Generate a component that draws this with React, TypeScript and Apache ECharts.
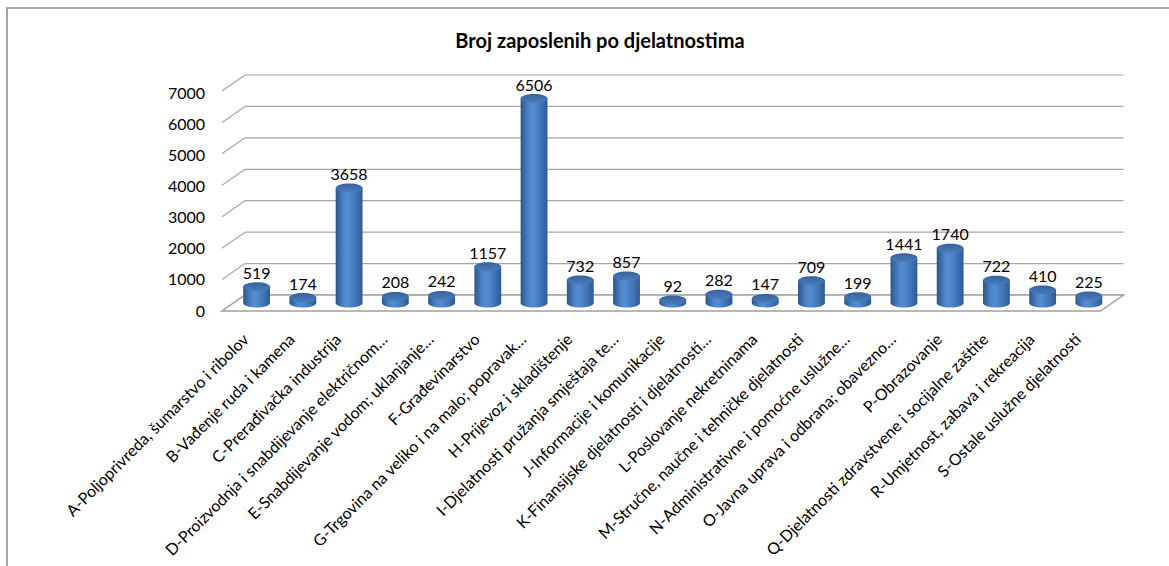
import React, { useEffect, useRef } from "react";
import * as echarts from "echarts";

const chartTitle = "Broj zaposlenih po djelatnostima";

const categories = [
  "A-Poljoprivreda, šumarstvo i ribolov",
  "B-Vađenje ruda i kamena",
  "C-Prerađivačka industrija",
  "D-Proizvodnja i snabdijevanje električnom…",
  "E-Snabdijevanje vodom; uklanjanje…",
  "F-Građevinarstvo",
  "G-Trgovina na veliko i na malo; popravak…",
  "H-Prijevoz i skladištenje",
  "I-Djelatnosti pružanja smještaja te…",
  "J-Informacije i komunikacije",
  "K-Finansijske djelatnosti i djelatnosti…",
  "L-Poslovanje nekretninama",
  "M-Stručne, naučne i tehničke djelatnosti",
  "N-Administrativne i pomoćne uslužne…",
  "O-Javna uprava i odbrana; obavezno…",
  "P-Obrazovanje",
  "Q-Djelatnosti zdravstvene i socijalne zaštite",
  "R-Umjetnost, zabava i rekreacija",
  "S-Ostale uslužne djelatnosti",
];

const values = [519, 174, 3658, 208, 242, 1157, 6506, 732, 857, 92, 282, 147, 709, 199, 1441, 1740, 722, 410, 225];

const yTicks = [0, 1000, 2000, 3000, 4000, 5000, 6000, 7000];

const FONT = "Lato, 'Open Sans', sans-serif";

export default function App() {
  const ref = useRef<HTMLDivElement>(null);

  useEffect(() => {
    const chart = echarts.init(ref.current!, null, { renderer: "svg" });
    const DX = 11.5;
    const DY = 8;
    const n = categories.length;

    const bodyGrad = () =>
      new echarts.graphic.LinearGradient(0, 0, 1, 0, [
        { offset: 0, color: "#2B5589" },
        { offset: 0.3, color: "#4E85C9" },
        { offset: 0.45, color: "#548DD2" },
        { offset: 0.75, color: "#4275B5" },
        { offset: 1, color: "#2D5A91" },
      ]);
    const topGrad = () =>
      new echarts.graphic.LinearGradient(0, 0, 0, 1, [
        { offset: 0, color: "#36639C" },
        { offset: 1, color: "#4A7CBC" },
      ]);

    const option: any = {
      animation: false,
      backgroundColor: "#ffffff",
      title: {
        text: chartTitle,
        left: 595,
        top: 25,
        textAlign: "center",
        textStyle: { fontFamily: FONT, fontSize: 20, fontWeight: "bold", color: "#000" },
      },
      graphic: [
        {
          type: "rect",
          shape: { x: 7, y: 8, width: 1200, height: 600 },
          style: { fill: "none", stroke: "#8a8a8a", lineWidth: 1.5 },
          silent: true,
        },
      ],
      grid: [
        { left: 233.5, top: 83, width: 878.5, height: 220 },
        { left: 222, top: 92, width: 878.5, height: 218 },
      ],
      xAxis: [
        {
          gridIndex: 0,
          type: "category",
          data: categories,
          axisLine: { show: false },
          axisTick: { show: false },
          axisLabel: { show: false },
          splitLine: { show: false },
        },
        {
          gridIndex: 1,
          type: "category",
          data: categories,
          axisLine: { show: false },
          axisTick: { show: false },
          axisLabel: {
            show: true,
            interval: 0,
            rotate: 45,
            margin: 26,
            fontFamily: FONT,
            fontSize: 16,
            color: "#000",
          },
          splitLine: { show: false },
        },
      ],
      yAxis: [
        {
          gridIndex: 0,
          type: "value",
          min: 0,
          max: 7000,
          interval: 1000,
          axisLine: { show: false },
          axisTick: { show: false },
          axisLabel: { show: false },
          splitLine: { show: false },
        },
        {
          gridIndex: 1,
          type: "value",
          min: 0,
          max: 7000,
          interval: 1000,
          axisLine: { show: false },
          axisTick: { show: false },
          axisLabel: {
            show: true,
            margin: 17,
            fontFamily: FONT,
            fontSize: 16,
            color: "#000",
            formatter: (v: number) => String(v),
          },
          splitLine: { show: false },
        },
      ],
      series: [
        {
          type: "custom",
          xAxisIndex: 0,
          yAxisIndex: 0,
          silent: true,
          z: 1,
          data: yTicks.map((v) => [0, v]),
          encode: { x: 0, y: 1 },
          renderItem: (params: any, api: any) => {
            const v = api.value(1);
            const p = api.coord([0, v]);
            const bw = api.size([1, 0])[0];
            const left = p[0] - bw / 2;
            const right = left + bw * n;
            const y = p[1];
            const gridStyle = { stroke: "#a6a6a6", lineWidth: 1.2 };
            const children: any[] = [
              { type: "line", shape: { x1: left + DX, y1: y - DY, x2: right + DX, y2: y - DY }, style: gridStyle },
              { type: "line", shape: { x1: left - DX, y1: y + DY, x2: left + DX, y2: y - DY }, style: gridStyle },
            ];
            if (v === 0) {
              children.push({
                type: "polygon",
                shape: {
                  points: [
                    [left - DX, y + DY],
                    [left + DX, y - DY],
                    [right + DX, y - DY],
                    [right - DX, y + DY],
                  ],
                },
                style: { fill: "#ffffff", stroke: "#a0a0a0", lineWidth: 1.5 },
              });
            }
            return { type: "group", children };
          },
        },
        {
          type: "custom",
          xAxisIndex: 0,
          yAxisIndex: 0,
          silent: true,
          z: 3,
          data: values.map((v, i) => [i, v]),
          encode: { x: 0, y: 1 },
          renderItem: (params: any, api: any) => {
            const idx = api.value(0);
            const v = api.value(1);
            const top = api.coord([idx, v]);
            const base = api.coord([idx, 0]);
            const bw = api.size([1, 0])[0];
            const rx = bw * 0.29;
            const ry = 4.5;
            const cx = top[0];
            const ty = top[1];
            const by = base[1];
            return {
              type: "group",
              children: [
                { type: "ellipse", shape: { cx, cy: by, rx, ry }, style: { fill: bodyGrad() } },
                { type: "rect", shape: { x: cx - rx, y: ty, width: rx * 2, height: by - ty }, style: { fill: bodyGrad() } },
                { type: "ellipse", shape: { cx, cy: ty, rx, ry }, style: { fill: topGrad() } },
                {
                  type: "text",
                  style: {
                    text: String(v),
                    x: cx,
                    y: ty - ry - 2,
                    align: "center",
                    verticalAlign: "bottom",
                    fontFamily: FONT,
                    fontSize: 16,
                    fill: "#000",
                  },
                },
              ],
            };
          },
        },
      ],
    };

    chart.setOption(option);
    return () => chart.dispose();
  }, []);

  return (
    <div
      ref={ref}
      style={{ position: "fixed", left: 0, top: 0, width: 1169, height: 566, background: "#fff" }}
    />
  );
}
